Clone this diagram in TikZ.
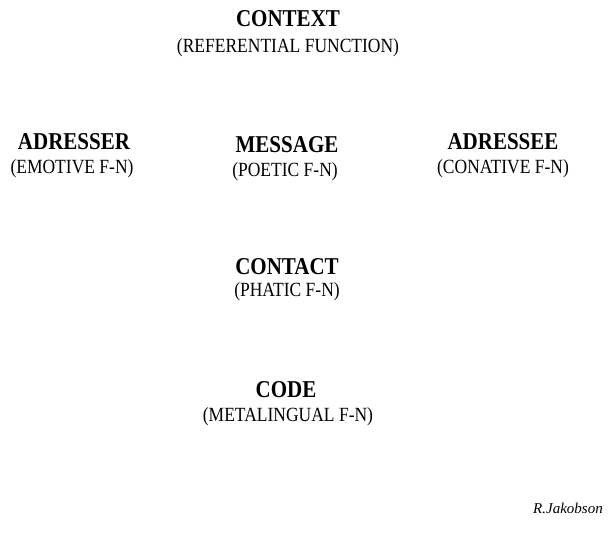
\documentclass[tikz,border=0pt]{standalone}
\usepackage{fontspec}
\usepackage{graphicx}
\setmainfont{Liberation Serif}
\newcommand{\tallbox}[1]{\scalebox{1}[1.15]{#1}}
\tikzset{
  ttl/.style={inner sep=0pt, anchor=base, font=\fontsize{21}{21}\selectfont\bfseries},
  sub/.style={inner sep=0pt, anchor=base, font=\fontsize{17.5}{17.5}\selectfont},
  sig/.style={inner sep=0pt, anchor=base, font=\fontsize{15}{15}\selectfont\itshape}
}
\begin{document}
\begin{tikzpicture}[x=1pt,y=-1pt]
\useasboundingbox (0,0) rectangle (613,534);
\node[ttl] (context) at (288,27) {\tallbox{CONTEXT}};
\node[sub] (contextf) at (288,53) {\tallbox{(REFERENTIAL FUNCTION)}};
\node[ttl] (adresser) at (74,150) {\tallbox{ADRESSER}};
\node[sub] (adresserf) at (72,174) {\tallbox{(EMOTIVE F-N)}};
\node[ttl] (message) at (287,153) {\tallbox{MESSAGE}};
\node[sub] (messagef) at (285,177) {\tallbox{(POETIC F-N)}};
\node[ttl] (adressee) at (503,150) {\tallbox{ADRESSEE}};
\node[sub] (adresseef) at (503,174) {\tallbox{(CONATIVE F-N)}};
\node[ttl] (contact) at (287,275) {\tallbox{CONTACT}};
\node[sub] (contactf) at (287,297) {\tallbox{(PHATIC F-N)}};
\node[ttl] (code) at (286,398) {\tallbox{CODE}};
\node[sub] (codef) at (288,421) {\tallbox{(METALINGUAL F-N)}};
\node[sig] (author) at (568,513) {R.Jakobson};
\end{tikzpicture}
\end{document}
